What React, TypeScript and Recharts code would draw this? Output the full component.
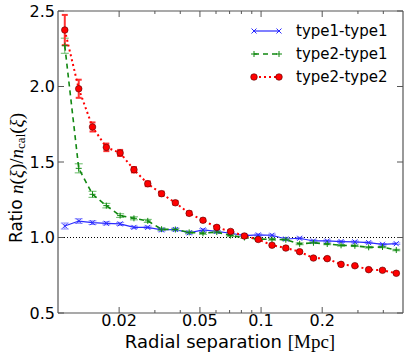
import React from "react";
import { LineChart, Line, XAxis, YAxis, ReferenceLine, ErrorBar, Legend } from "recharts";

// bin centres (Mpc), log-spaced
const separation = [
  0.0108, 0.01265, 0.01479, 0.0173, 0.02023, 0.02366, 0.02767, 0.03236, 0.03784, 0.04426,
  0.05176, 0.06053, 0.07079, 0.08279, 0.09683, 0.1132, 0.1324, 0.1549, 0.1811, 0.2118,
  0.2477, 0.2897, 0.3388, 0.3963, 0.4634,
];

const type1Type1 = [
  1.076, 1.109, 1.098, 1.094, 1.09, 1.067, 1.067, 1.05, 1.053, 1.031,
  1.05, 1.04, 1.028, 1.013, 1.017, 1.015, 0.99, 0.995, 0.977, 0.977,
  0.973, 0.971, 0.966, 0.955, 0.959,
];
const type1Type1Err = [
  0.02, 0.015, 0.012, 0.01, 0.01, 0.008, 0.008, 0.008, 0.008, 0.008,
  0.008, 0.007, 0.007, 0.007, 0.007, 0.007, 0.007, 0.006, 0.006, 0.006,
  0.006, 0.006, 0.005, 0.005, 0.005,
];

const type2Type1 = [
  2.27, 1.458, 1.286, 1.211, 1.145, 1.127, 1.11, 1.055, 1.053, 1.034,
  1.028, 1.036, 1.013, 1.0, 0.99, 0.988, 0.985, 0.958, 0.965, 0.957,
  0.948, 0.945, 0.935, 0.937, 0.917,
];
const type2Type1Err = [
  0.05, 0.03, 0.02, 0.015, 0.012, 0.01, 0.01, 0.008, 0.008, 0.008,
  0.007, 0.007, 0.007, 0.006, 0.006, 0.006, 0.006, 0.006, 0.005, 0.005,
  0.005, 0.005, 0.005, 0.005, 0.005,
];

const type2Type2 = [
  2.374, 1.985, 1.732, 1.597, 1.56, 1.449, 1.356, 1.29, 1.23, 1.16,
  1.114, 1.067, 1.04, 1.01, 0.987, 0.949, 0.93, 0.906, 0.864, 0.86,
  0.822, 0.813, 0.787, 0.783, 0.763,
];
const type2Type2Err = [
  0.1, 0.06, 0.03, 0.025, 0.02, 0.018, 0.016, 0.014, 0.012, 0.012,
  0.01, 0.01, 0.01, 0.009, 0.008, 0.008, 0.008, 0.007, 0.007, 0.007,
  0.007, 0.006, 0.006, 0.006, 0.006,
];

const xTicks = [0.02, 0.03, 0.04, 0.05, 0.06, 0.07, 0.08, 0.09, 0.1, 0.2, 0.3, 0.4];
const xLabelled = ["0.02", "0.05", "0.1", "0.2"];
const yTicks = [0.5, 1.0, 1.5, 2.0, 2.5];

const data = separation.map((r, i) => ({
  r,
  t11: type1Type1[i],
  t11Err: type1Type1Err[i],
  t21: type2Type1[i],
  t21Err: type2Type1Err[i],
  t22: type2Type2[i],
  t22Err: type2Type2Err[i],
}));

const BLUE = "#2a2aff";
const GREEN = "#118811";
const RED = "#ff0000";
const FRAME = "#555555";
const SANS = "DejaVu Sans, sans-serif";
const SERIF = "Liberation Serif, DejaVu Serif, serif";

const XTick = ({ x, y, payload, top }: any) => {
  const label = xLabelled.find((l) => Math.abs(parseFloat(l) - payload.value) < 1e-9);
  const len = label ? 6 : 3;
  return (
    <g>
      <line x1={x} x2={x} y1={y} y2={top ? y + len : y - len} stroke={FRAME} strokeWidth={1} />
      {!top && label && (
        <text x={x} y={y + 13} textAnchor="middle" fontFamily={SANS} fontSize={16} fill="#000">
          {label}
        </text>
      )}
    </g>
  );
};

const YTick = ({ x, y, payload, right }: any) => (
  <g>
    <line x1={x} x2={right ? x - 6 : x + 6} y1={y} y2={y} stroke={FRAME} strokeWidth={1} />
    {!right && (
      <text x={x - 3} y={y} dy="0.36em" textAnchor="end" fontFamily={SANS} fontSize={16} fill="#000">
        {payload.value.toFixed(1)}
      </text>
    )}
  </g>
);

const XMark = ({ cx, cy, color }: any) => (
  <g>
    <line x1={cx - 2.5} y1={cy - 2.5} x2={cx + 2.5} y2={cy + 2.5} stroke={color} strokeWidth={1} />
    <line x1={cx - 2.5} y1={cy + 2.5} x2={cx + 2.5} y2={cy - 2.5} stroke={color} strokeWidth={1} />
  </g>
);

const PlusMark = ({ cx, cy, color }: any) => (
  <g>
    <line x1={cx - 3} y1={cy} x2={cx + 3} y2={cy} stroke={color} strokeWidth={1} />
    <line x1={cx} y1={cy - 3} x2={cx} y2={cy + 3} stroke={color} strokeWidth={1} />
  </g>
);

const CircleMark = ({ cx, cy }: any) => (
  <circle cx={cx} cy={cy} r={3.3} fill={RED} stroke="#550000" strokeWidth={0.6} />
);

const legendItems = [
  { name: "type1-type1", color: BLUE, dash: undefined, width: 1.2, mark: "x" },
  { name: "type2-type1", color: GREEN, dash: "5 4", width: 1.6, mark: "+" },
  { name: "type2-type2", color: RED, dash: "2 3", width: 2, mark: "o" },
];

const renderMark = (mark: string, cx: number, cy: number, color: string) =>
  mark === "x" ? <XMark cx={cx} cy={cy} color={color} /> : mark === "+" ? <PlusMark cx={cx} cy={cy} color={color} /> : <CircleMark cx={cx} cy={cy} />;

const LegendBox = () => (
  <svg width={160} height={70}>
    {legendItems.map((it, i) => {
      const y = 10 + i * 23;
      return (
        <g key={it.name}>
          <line x1={6} x2={31} y1={y} y2={y} stroke={it.color} strokeWidth={it.width} strokeDasharray={it.dash} />
          {renderMark(it.mark, 6, y, it.color)}
          {renderMark(it.mark, 31, y, it.color)}
          <text x={48} y={y} dy="0.36em" fontFamily={SANS} fontSize={15} fill="#000">
            {it.name}
          </text>
        </g>
      );
    })}
  </svg>
);

const XLabel = () => (
  <text x={230} y={348} textAnchor="middle" fontSize={18} fill="#000" fontFamily={SANS}>
    Radial separation{" "}
    <tspan fontFamily={SERIF} fontSize={19}>[Mpc]</tspan>
  </text>
);

const YLabel = () => (
  <text
    x={16}
    y={178}
    transform="rotate(-90, 16, 178)"
    textAnchor="middle"
    dominantBaseline="central"
    fontSize={17}
    fill="#000"
    fontFamily={SANS}
  >
    Ratio{" "}
    <tspan fontFamily={SERIF} fontStyle="italic" fontSize={19}>n</tspan>
    <tspan fontFamily={SERIF} fontSize={19}>(</tspan>
    <tspan fontFamily={SERIF} fontStyle="italic" fontSize={19}>ξ</tspan>
    <tspan fontFamily={SERIF} fontSize={19}>)/</tspan>
    <tspan fontFamily={SERIF} fontStyle="italic" fontSize={19}>n</tspan>
    <tspan fontFamily={SERIF} fontSize={13} dy={4}>cal</tspan>
    <tspan fontFamily={SERIF} fontSize={19} dy={-4}>(</tspan>
    <tspan fontFamily={SERIF} fontStyle="italic" fontSize={19}>ξ</tspan>
    <tspan fontFamily={SERIF} fontSize={19}>)</tspan>
  </text>
);

export default function App() {
  return (
    <div style={{ position: "absolute", left: 0, top: 0, width: 415, height: 364, background: "#fff" }}>
      <LineChart width={415} height={364} data={data} margin={{ top: 0, right: 0, bottom: 0, left: 0 }}>
        <XAxis
          xAxisId="b"
          dataKey="r"
          type="number"
          scale="log"
          domain={[0.01, 0.5]}
          allowDataOverflow
          ticks={xTicks}
          interval={0}
          tickSize={0}
          tickMargin={0}
          height={51}
          tickLine={false}
          axisLine={{ stroke: FRAME, strokeWidth: 1.2 }}
          tick={<XTick />}
          label={<XLabel />}
        />
        <XAxis
          xAxisId="t"
          orientation="top"
          dataKey="r"
          type="number"
          scale="log"
          domain={[0.01, 0.5]}
          allowDataOverflow
          ticks={xTicks}
          interval={0}
          tickSize={0}
          tickMargin={0}
          height={11}
          tickLine={false}
          axisLine={{ stroke: FRAME, strokeWidth: 1.2 }}
          tick={<XTick top />}
        />
        <YAxis
          yAxisId="l"
          type="number"
          domain={[0.5, 2.5]}
          allowDataOverflow
          ticks={yTicks}
          interval={0}
          width={58}
          tickSize={0}
          tickMargin={0}
          tickLine={false}
          axisLine={{ stroke: FRAME, strokeWidth: 1.2 }}
          tick={<YTick />}
          label={<YLabel />}
        />
        <YAxis
          yAxisId="r"
          orientation="right"
          type="number"
          domain={[0.5, 2.5]}
          allowDataOverflow
          ticks={yTicks}
          interval={0}
          width={12}
          tickSize={0}
          tickMargin={0}
          tickLine={false}
          axisLine={{ stroke: FRAME, strokeWidth: 1.2 }}
          tick={<YTick right />}
        />
        <ReferenceLine xAxisId="b" yAxisId="l" y={1} stroke="#000" strokeWidth={1} strokeDasharray="1 2" />
        <Line
          xAxisId="b"
          yAxisId="l"
          dataKey="t11"
          stroke={BLUE}
          strokeWidth={1.2}
          isAnimationActive={false}
          dot={(p: any) => <XMark key={`a${p.index}`} cx={p.cx} cy={p.cy} color={BLUE} />}
          activeDot={false}
        >
          <ErrorBar dataKey="t11Err" direction="y" width={4} stroke="#8c8cff" strokeWidth={1} isAnimationActive={false} />
        </Line>
        <Line
          xAxisId="b"
          yAxisId="l"
          dataKey="t21"
          stroke={GREEN}
          strokeWidth={1.6}
          strokeDasharray="5 4"
          isAnimationActive={false}
          dot={(p: any) => <PlusMark key={`b${p.index}`} cx={p.cx} cy={p.cy} color={GREEN} />}
          activeDot={false}
        >
          <ErrorBar dataKey="t21Err" direction="y" width={4} stroke="#66bb66" strokeWidth={1} isAnimationActive={false} />
        </Line>
        <Line
          xAxisId="b"
          yAxisId="l"
          dataKey="t22"
          stroke={RED}
          strokeWidth={2}
          strokeDasharray="2 3"
          isAnimationActive={false}
          dot={(p: any) => <CircleMark key={`c${p.index}`} cx={p.cx} cy={p.cy} />}
          activeDot={false}
        >
          <ErrorBar dataKey="t22Err" direction="y" width={3} stroke="#ff3333" strokeWidth={2} isAnimationActive={false} />
        </Line>
        <Legend
          layout="vertical"
          align="center"
          verticalAlign="middle"
          wrapperStyle={{ position: "absolute", top: 21, left: 248, width: 160 }}
          content={() => <LegendBox />}
        />
      </LineChart>
    </div>
  );
}
